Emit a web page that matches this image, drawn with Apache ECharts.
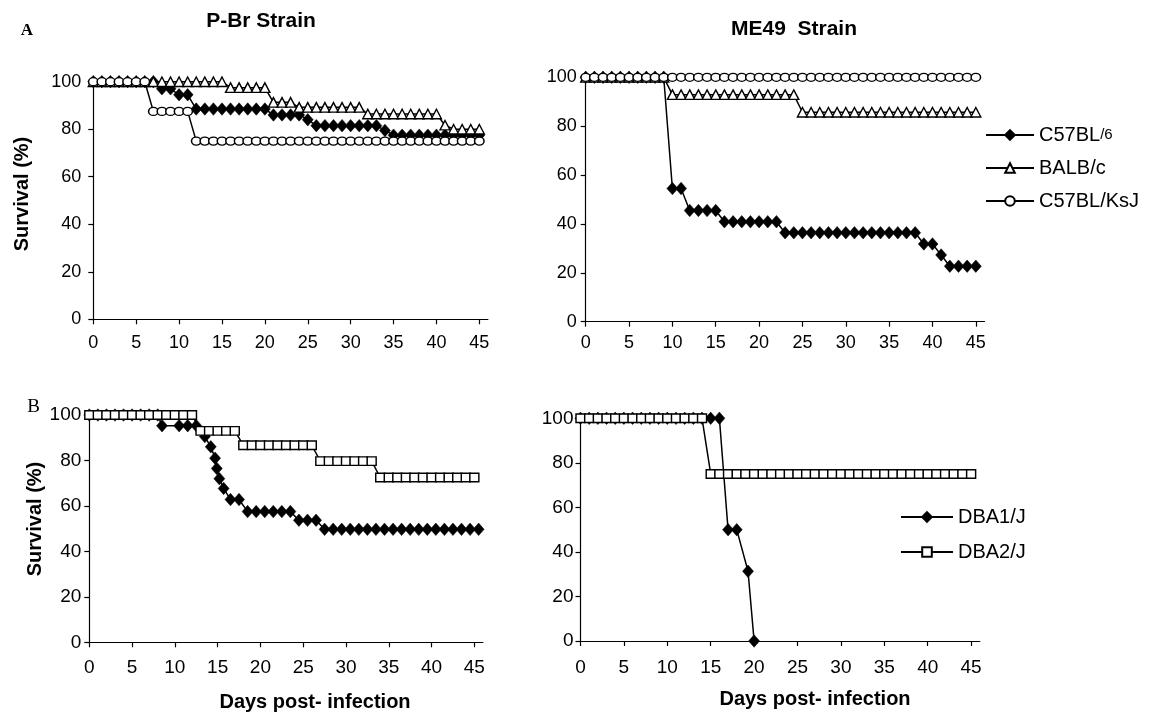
<!DOCTYPE html>
<html><head><meta charset="utf-8">
<script src="https://cdn.jsdelivr.net/npm/echarts@6/dist/echarts.min.js"></script>
<style>html,body{margin:0;padding:0;background:#fff}#c{width:1150px;height:722px}</style>
</head><body><div id="c"></div>
<script>
// ---------- data ----------
const DAYS = [0,1,2,3,4,5,6,7,8,9,10,11,12,13,14,15,16,17,18,19,20,21,22,23,24,25,26,27,28,29,30,31,32,33,34,35,36,37,38,39,40,41,42,43,44,45];
const X_TICKS = [0,5,10,15,20,25,30,35,40,45];

// A, P-Br strain (survival %, one value per day 0..45)
const PBR_C57BL6 = [100,100,100,100,100,100,100,100,97,97,94.5,94.5,88.5,88.5,88.5,88.5,88.5,88.5,88.5,88.5,88.5,86,86,86,86,84,81.5,81.5,81.5,81.5,81.5,81.5,81.5,81.5,79.5,77.5,77.5,77.5,77.5,77.5,77.5,77.5,77.5,77.5,77.5,77.5];
const PBR_BALBC  = [100,100,100,100,100,100,100,100,100,100,100,100,100,100,100,100,97.5,97.5,97.5,97.5,97.5,91.3,91.3,91.3,89.2,89.2,89.2,89.2,89.2,89.2,89.2,89.2,86.4,86.4,86.4,86.4,86.4,86.4,86.4,86.4,86.4,81.7,80,80,80,80];
const PBR_KSJ    = [100,100,100,100,100,100,100,87.5,87.5,87.5,87.5,87.5,75,75,75,75,75,75,75,75,75,75,75,75,75,75,75,75,75,75,75,75,75,75,75,75,75,75,75,75,75,75,75,75,75,75];

// A, ME49 strain
const ME_C57BL6 = [100,100,100,100,100,100,100,100,100,100,54.5,54.5,45.5,45.5,45.5,45.5,40.9,40.9,40.9,40.9,40.9,40.9,40.9,36.4,36.4,36.4,36.4,36.4,36.4,36.4,36.4,36.4,36.4,36.4,36.4,36.4,36.4,36.4,36.4,31.8,31.8,27.3,22.7,22.7,22.7,22.7];
const ME_BALBC  = [100,100,100,100,100,100,100,100,100,100,92.9,92.9,92.9,92.9,92.9,92.9,92.9,92.9,92.9,92.9,92.9,92.9,92.9,92.9,92.9,85.7,85.7,85.7,85.7,85.7,85.7,85.7,85.7,85.7,85.7,85.7,85.7,85.7,85.7,85.7,85.7,85.7,85.7,85.7,85.7,85.7];
const ME_KSJ    = [100,100,100,100,100,100,100,100,100,100,100,100,100,100,100,100,100,100,100,100,100,100,100,100,100,100,100,100,100,100,100,100,100,100,100,100,100,100,100,100,100,100,100,100,100,100];

// B, P-Br strain
const PBR_DBA1_DAYS = [0,1,2,3,4,5,6,7,8,8.5,10.5,11.5,12.5,13.5,14.2,14.7,14.9,15.2,15.7,16.5,17.5,18.5,19.5,20.5,21.5,22.5,23.5,24.5,25.5,26.5,27.5,28.5,29.5,30.5,31.5,32.5,33.5,34.5,35.5,36.5,37.5,38.5,39.5,40.5,41.5,42.5,43.5,44.5,45.5];
const PBR_DBA1J = [100,100,100,100,100,100,100,100,100,95.3,95.3,95.3,95.3,90.5,86,81,76.5,72,67.7,62.8,62.8,57.5,57.5,57.5,57.5,57.5,57.5,53.7,53.7,53.7,49.7,49.7,49.7,49.7,49.7,49.7,49.7,49.7,49.7,49.7,49.7,49.7,49.7,49.7,49.7,49.7,49.7,49.7,49.7];
const PBR_DBA2J = [100,100,100,100,100,100,100,100,100,100,100,100,100,93,93,93,93,93,86.7,86.7,86.7,86.7,86.7,86.7,86.7,86.7,86.7,79.7,79.7,79.7,79.7,79.7,79.7,79.7,72.5,72.5,72.5,72.5,72.5,72.5,72.5,72.5,72.5,72.5,72.5,72.5];

// B, ME49 strain
const ME_DBA1_DAYS = [0,1,2,3,4,5,6,7,8,9,10,11,12,13,14,15,16,17,18,19.3,20];
const ME_DBA1J = [100,100,100,100,100,100,100,100,100,100,100,100,100,100,100,100,100,50,50,31.3,0];
const ME_DBA2J = [100,100,100,100,100,100,100,100,100,100,100,100,100,100,100,75,75,75,75,75,75,75,75,75,75,75,75,75,75,75,75,75,75,75,75,75,75,75,75,75,75,75,75,75,75,75];

// ---------- chart ----------
const SANS = 'Liberation Sans, Arial, sans-serif';
const STYLE = {
  'C57BL/6':   {symbol:'diamond',  symbolSize:[11,12.5], itemStyle:{color:'#000', borderColor:'#000', borderWidth:0.5}},
  'BALB/c':    {symbol:'triangle', symbolSize:[10,9.5],  itemStyle:{color:'#fff', borderColor:'#000', borderWidth:1.4}},
  'C57BL/KsJ': {symbol:'circle',   symbolSize:[9.5,8],   itemStyle:{color:'#fff', borderColor:'#000', borderWidth:1.4}},
  'DBA1/J':    {symbol:'diamond',  symbolSize:[11,12.5], itemStyle:{color:'#000', borderColor:'#000', borderWidth:0.5}},
  'DBA2/J':    {symbol:'rect',     symbolSize:[9,8.5],   itemStyle:{color:'#fff', borderColor:'#000', borderWidth:1.4}}
};
function pts(days, vals){ return vals.map((v,i)=>[days[i], v]); }
function mkSeries(name, idx, days, vals){
  const s = STYLE[name];
  return {
    type:'line', name, xAxisIndex:idx, yAxisIndex:idx,
    data: pts(days, vals),
    symbol:s.symbol, symbolSize:s.symbolSize, showAllSymbol:true,
    itemStyle:s.itemStyle,
    lineStyle:{color:'#000', width:1.5},
    emphasis:{disabled:true}, silent:true
  };
}

const GRIDS = [
  {left:93.3,  top:81.7,  width:394.6, height:237.6},
  {left:585.7, top:77.3,  width:398.8, height:244.4},
  {left:89.3,  top:415,   width:393.6, height:227.3},
  {left:580.5, top:418.3, width:399.3, height:222.7}
];
const XLBL = [{m:15,f:18},{m:12.5,f:18},{m:16,f:19},{m:17,f:19}];
const YLBL = [{m:12,f:18},{m:9,f:18},{m:8,f:19},{m:7,f:19}];
const axLine = {show:true, lineStyle:{color:'#000', width:1.2}};
const axTick = {show:true, length:5, lineStyle:{color:'#000', width:1.2}};

const option = {
  animation:false,
  backgroundColor:'#fff',
  grid: GRIDS.map(g=>Object.assign({containLabel:false, outerBoundsMode:'none'}, g)),
  xAxis: GRIDS.map((g,i)=>({
    type:'value', gridIndex:i, min:0, max:46, interval:5,
    axisLine:axLine, axisTick:Object.assign({customValues:X_TICKS}, axTick), splitLine:{show:false},
    axisLabel:{customValues:X_TICKS, color:'#000', fontFamily:SANS, fontSize:XLBL[i].f, margin:XLBL[i].m}
  })),
  yAxis: GRIDS.map((g,i)=>({
    type:'value', gridIndex:i, min:0, max:100, interval:20,
    axisLine:axLine, axisTick:axTick, splitLine:{show:false},
    axisLabel:{color:'#000', fontFamily:SANS, fontSize:YLBL[i].f, margin:YLBL[i].m}
  })),
  legend: [
    {data:['C57BL/6','BALB/c','C57BL/KsJ'], orient:'vertical', left:980, top:120,
     itemWidth:48, itemHeight:12, itemGap:13, selectedMode:false,
     formatter: n => n === 'C57BL/6' ? 'C57BL{s|/6}' : n,
     textStyle:{color:'#000', fontFamily:SANS, fontSize:20, lineHeight:20,
       rich:{s:{fontFamily:SANS, fontSize:15, color:'#000', lineHeight:20}}}},
    {data:['DBA1/J','DBA2/J'], orient:'vertical', left:895, top:502,
     itemWidth:52, itemHeight:12, itemGap:15, selectedMode:false,
     textStyle:{color:'#000', fontFamily:SANS, fontSize:20, lineHeight:20}}
  ],
  graphic: [
    {type:'text', x:27, y:31, style:{text:'A', fontFamily:'Liberation Serif, Times New Roman, serif', fontWeight:'bold', fontSize:17, fill:'#000', align:'center', verticalAlign:'middle'}},
    {type:'text', x:33.5, y:407, style:{text:'B', fontFamily:'Liberation Serif, Times New Roman, serif', fontSize:19, fill:'#000', align:'center', verticalAlign:'middle'}},
    {type:'text', x:261, y:21, style:{text:'P-Br Strain', fontFamily:SANS, fontWeight:'bold', fontSize:21, fill:'#000', align:'center', verticalAlign:'middle'}},
    {type:'text', x:794, y:29, style:{text:'ME49  Strain', fontFamily:SANS, fontWeight:'bold', fontSize:21, fill:'#000', align:'center', verticalAlign:'middle'}},
    {type:'text', x:22.5, y:194, rotation:Math.PI/2, style:{text:'Survival (%)', fontFamily:SANS, fontWeight:'bold', fontSize:20, fill:'#000', align:'center', verticalAlign:'middle'}},
    {type:'text', x:35, y:519, rotation:Math.PI/2, style:{text:'Survival (%)', fontFamily:SANS, fontWeight:'bold', fontSize:20, fill:'#000', align:'center', verticalAlign:'middle'}},
    {type:'text', x:315, y:702, style:{text:'Days post- infection', fontFamily:SANS, fontWeight:'bold', fontSize:20, fill:'#000', align:'center', verticalAlign:'middle'}},
    {type:'text', x:815, y:699, style:{text:'Days post- infection', fontFamily:SANS, fontWeight:'bold', fontSize:20, fill:'#000', align:'center', verticalAlign:'middle'}}
  ],
  series: [
    mkSeries('C57BL/6', 0, DAYS, PBR_C57BL6),
    mkSeries('BALB/c', 0, DAYS, PBR_BALBC),
    mkSeries('C57BL/KsJ', 0, DAYS, PBR_KSJ),
    mkSeries('C57BL/6', 1, DAYS, ME_C57BL6),
    mkSeries('BALB/c', 1, DAYS, ME_BALBC),
    mkSeries('C57BL/KsJ', 1, DAYS, ME_KSJ),
    mkSeries('DBA1/J', 2, PBR_DBA1_DAYS, PBR_DBA1J),
    mkSeries('DBA2/J', 2, DAYS, PBR_DBA2J),
    mkSeries('DBA1/J', 3, ME_DBA1_DAYS, ME_DBA1J),
    mkSeries('DBA2/J', 3, DAYS, ME_DBA2J)
  ]
};
const chart = echarts.init(document.getElementById('c'), null, {renderer:'canvas'});
chart.setOption(option);
</script>
</body></html>
